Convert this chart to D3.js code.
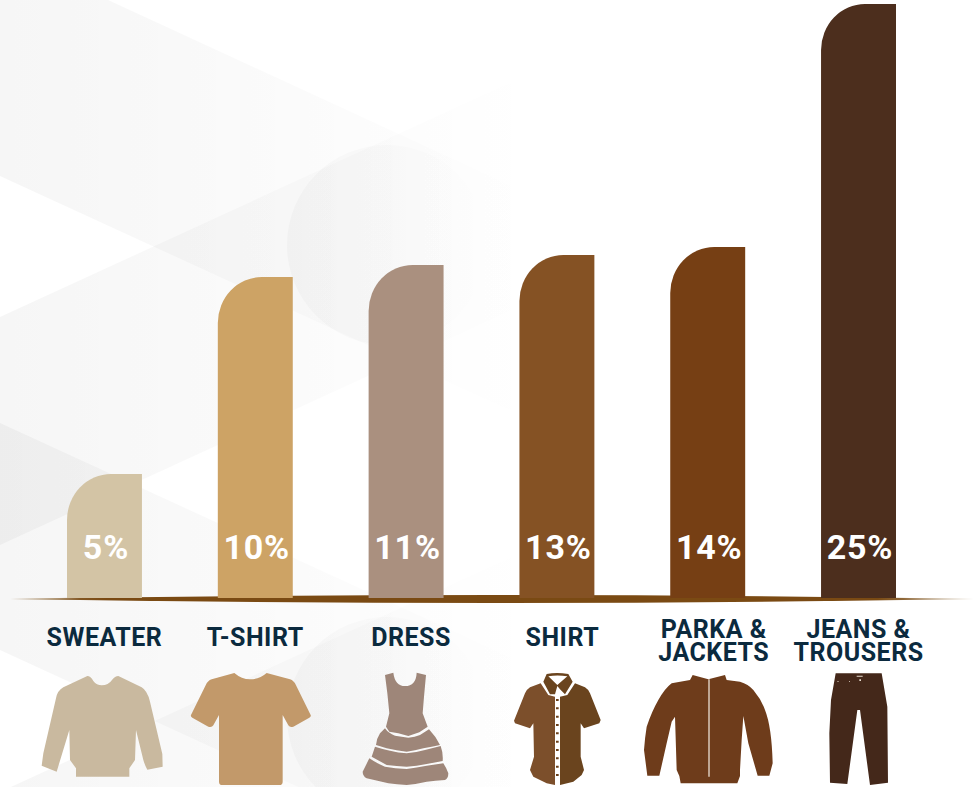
<!DOCTYPE html>
<html>
<head>
<meta charset="utf-8">
<script src="https://cdn.jsdelivr.net/npm/d3@7"></script>
<style>
  html, body { margin: 0; padding: 0; background: #fff; }
  svg { display: block; }
  text { font-family: Roboto, sans-serif; font-weight: 700; }
</style>
</head>
<body>
<svg class="chart" width="974" height="787"></svg>
<script>
const categories = ['SWEATER', 'T-SHIRT', 'DRESS', 'SHIRT', 'PARKA & JACKETS', 'JEANS & TROUSERS'];
const shares = [5, 10, 11, 13, 14, 25];
const barColors = ['#d3c4a5', '#cda365', '#aa907f', '#855224', '#763f14', '#4c2e1d'];

const width = 974;
const height = 787;
const baseY = 598;

const svg = d3.select('svg.chart');
const defs = svg.append('defs');

// the bars in the source are not drawn to scale, so the scale is piecewise
const y = d3.scaleLinear()
  .domain([0, 5, 10, 11, 13, 14, 25])
  .range([baseY, 474, 277, 265, 255, 247, 4]);

const x = d3.scaleBand()
  .domain(categories)
  .range([67, 896])
  .paddingInner(0.503);

const fade = (id, x1, x2, alpha) => {
  const grad = defs.append('linearGradient')
    .attr('id', id)
    .attr('gradientUnits', 'userSpaceOnUse')
    .attr('x1', x1).attr('x2', x2).attr('y1', 0).attr('y2', 0);
  grad.append('stop').attr('offset', 0).attr('stop-color', '#000').attr('stop-opacity', alpha);
  grad.append('stop').attr('offset', 1).attr('stop-color', '#000').attr('stop-opacity', 0);
};
fade('band-fade', 0, 540, 0.036);
fade('disc-fade', 287, 490, 0.024);

// background bands and discs
const bands = [
  'M0,0L108,0L540,199L540,424L0,176Z',
  'M0,317L540,69L540,297L0,545Z',
  'M0,423L540,671L540,898L0,650Z',
  'M0,792L540,544L540,787L0,787Z',
];
const bg = svg.append('g');
bg.selectAll('path')
  .data(bands)
  .enter()
  .append('path')
  .attr('d', d => d)
  .attr('fill', 'url(#band-fade)');
bg.selectAll('circle')
  .data([[387, 245], [387, 717]])
  .enter()
  .append('circle')
  .attr('cx', d => d[0])
  .attr('cy', d => d[1])
  .attr('r', 100)
  .attr('fill', 'url(#disc-fade)');

// baseline
const lineGrad = defs.append('linearGradient').attr('id', 'base-line');
[[0, '#9a7a4c'], [0.1, '#7a4a13'], [0.9, '#7a4a13'], [1, '#c9b9a0']].forEach((s) => {
  lineGrad.append('stop').attr('offset', s[0]).attr('stop-color', s[1]);
});
svg.append('path')
  .attr('d', 'M10,599Q492,591 974,599Q492,607 10,599Z')
  .attr('fill', 'url(#base-line)');

// bars
const barPath = (d) => {
  const left = x(d.name);
  const top = y(d.value);
  const right = left + x.bandwidth();
  return `M${left},${baseY}V${top + 46}A44,46 0 0 1 ${left + 44},${top}H${right}V${baseY}Z`;
};
const data = categories.map((name, i) => ({ name, value: shares[i], color: barColors[i] }));

svg.append('g')
  .selectAll('path')
  .data(data)
  .enter()
  .append('path')
  .attr('d', barPath)
  .attr('fill', d => d.color);

svg.append('g')
  .selectAll('text')
  .data(data)
  .enter()
  .append('text')
  .attr('x', d => x(d.name) + (x.bandwidth() / 2) + 1.5)
  .attr('y', 558.5)
  .attr('text-anchor', 'middle')
  .attr('fill', '#fff')
  .attr('font-size', 34)
  .attr('letter-spacing', 0.8)
  .text(d => `${d.value}%`);

// category names
const labelShift = [0, 0, 5, 5.5, 6, 0];
const labels = svg.append('g')
  .selectAll('text')
  .data(data)
  .enter()
  .append('text')
  .attr('text-anchor', 'middle')
  .attr('fill', '#0b2a3e')
  .attr('font-size', 25)
  .attr('letter-spacing', 0.5);

labels.each(function (d, i) {
  const cx = x(d.name) + (x.bandwidth() / 2) + labelShift[i];
  const parts = d.name.includes('&') ? [d.name.slice(0, d.name.indexOf('&') + 1), d.name.slice(d.name.indexOf('&') + 2)] : [d.name];
  const firstY = parts.length > 1 ? 637.5 : 645.5;
  d3.select(this)
    .selectAll('tspan')
    .data(parts)
    .enter()
    .append('tspan')
    .attr('x', cx)
    .attr('y', (p, j) => firstY + (j * 23))
    .text(p => p);
});

// icons, traced at 3x so each group is scaled down by a third
const icons = [
  {
    origin: 0,
    shapes: [{
      fill: '#c9b99f',
      d: 'M262,228Q272,228 280,243Q290,256 305,256Q325,256 336,240Q345,228 355,228L425,262Q442,272 450,305L487,462L488,500L442,509Q436,500 430,480L408,390L405,480L388,505L388,530L228,530L228,505L210,480L208,390L170,515L125,497L130,460L168,295Q172,272 190,262Z',
    }],
  },
  {
    origin: 0,
    shapes: [{
      fill: '#c2996a',
      d: 'M703,219Q725,238 750,238Q778,238 800,219L870,238Q882,242 888,256L932,345Q934,350 928,353L880,380Q870,384 865,376L848,345L848,545Q848,555 838,555L667,555Q657,555 657,545L657,345L640,376Q635,384 625,380L577,353Q571,350 573,345L617,256Q623,242 635,238Z',
    }],
  },
  {
    origin: 330,
    shapes: [{
      fill: '#9e8679',
      d: 'M165,225L190,218Q195,258 225,258Q258,258 260,218L288,225L282,290L278,340L293,380L268,397L235,408L205,400L178,395L168,380L178,340L172,280Z'
        + 'M165,385Q175,400 195,407Q215,410 235,413Q255,412 270,405L297,388Q318,410 330,435Q305,440 280,445Q255,452 230,455Q200,452 170,445L138,435Q140,415 150,400Z'
        + 'M135,440Q160,448 180,452Q205,458 230,460Q260,457 285,450L332,438Q340,460 338,483Q315,487 290,492Q260,498 230,500Q200,499 170,495L125,470Z'
        + 'M118,475Q140,490 165,500Q195,505 230,507Q260,503 290,497L340,490Q350,505 355,520Q355,535 345,540Q315,542 290,545Q260,552 230,555Q200,553 175,550L110,535Q98,528 98,515Z',
    }],
  },
  {
    origin: 330,
    shapes: [
      {
        fill: '#7c4f2b',
        d: 'M632,250L600,262Q588,270 585,280L552,362L555,370L600,385L610,370L612,470L600,510L610,530L650,550L675,555L675,290L655,285Z',
      },
      {
        fill: '#6a441e',
        d: 'M690,555L730,545L755,525L762,510L752,470L752,370L762,385L808,370L812,360L780,280Q775,268 765,262L735,250L712,285L690,290Z',
      },
      {
        fill: '#6a441e',
        d: 'M640,245L650,222Q680,216 715,222L728,245L705,283L690,268L682,258L675,283L660,283ZM655,229L682,255L712,229Q682,224 655,229Z',
      },
      {
        fill: '#6a3f1a',
        d: d3.range(10).map(i => `M678,${297 + (i * 25)}h8v6h-8Z`).join(''),
      },
    ],
  },
  {
    origin: 630,
    shapes: [
      {
        fill: '#6e3c1b',
        d: 'M188,225L235,238L285,225L290,240L330,245Q355,252 370,270Q395,300 405,330Q425,380 428,490L418,527L383,527L355,430L340,348L335,420L330,510L330,528L322,550L152,550L148,528L140,510L135,350L125,365L110,430L88,527L52,527L42,450Q45,410 50,380Q65,335 85,300Q105,265 125,250L180,240Z',
      },
      { fill: '#e8dcd0', d: 'M235,238H239V530H235Z' },
    ],
  },
  {
    origin: 630,
    shapes: [
      {
        fill: '#44281a',
        d: 'M617,220L755,220L772,320L774,548L720,555L690,330L682,330L652,552L600,548L598,400L603,300Z',
      },
      { fill: '#e8dcd0', d: 'M680,227H698V230H680ZM688,238H693V243H688ZM622,243H626V245H622ZM657,243H660V245H657Z' },
    ],
  },
];

const iconGroup = svg.append('g')
  .selectAll('g')
  .data(icons)
  .enter()
  .append('g')
  .attr('transform', d => `translate(${d.origin},600) scale(${1 / 3})`);

iconGroup.selectAll('path')
  .data(d => d.shapes)
  .enter()
  .append('path')
  .attr('d', d => d.d)
  .attr('fill', d => d.fill);
</script>
</body>
</html>
